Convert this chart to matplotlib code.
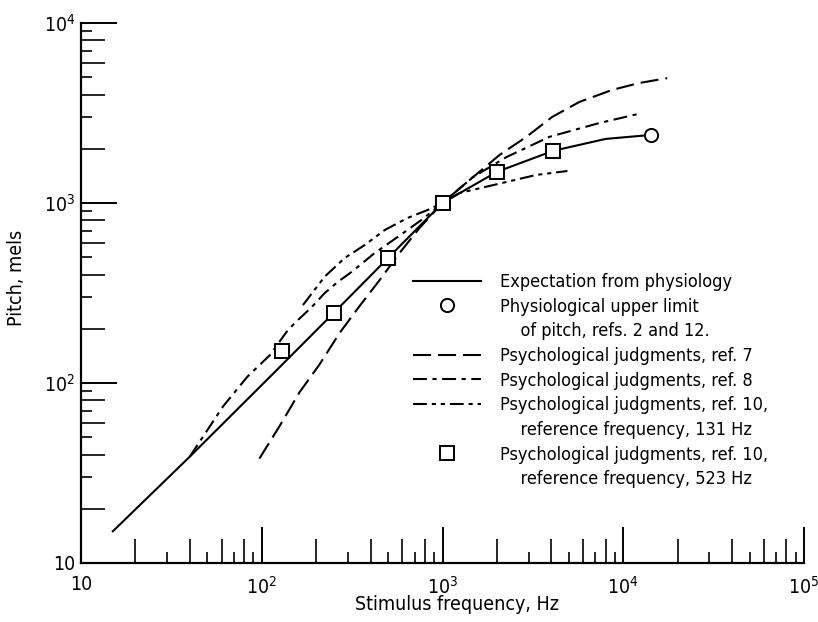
import matplotlib
matplotlib.use("Agg")
import matplotlib.pyplot as plt
from matplotlib import font_manager as fm
from matplotlib.lines import Line2D
from matplotlib.ticker import LogLocator, NullFormatter, NullLocator

# ---- data (Hz, mels) ----
expect_hz = [15, 40, 118, 250, 500, 1000, 2000, 4100, 8000, 14300]
expect_mel = [15, 39, 115, 245, 495, 1000, 1490, 1950, 2270, 2390]

limit_hz = [14300]
limit_mel = [2390]

ref7_hz = [97, 126, 162, 209, 270, 348, 449, 578, 746, 1000,
           1410, 2070, 2910, 4050, 5710, 8690, 12250, 17500]
ref7_mel = [38, 58, 89, 127, 190, 268, 373, 527, 726, 1000,
            1340, 1850, 2330, 3010, 3640, 4250, 4640, 4940]

ref8_hz = [40, 61, 83, 111, 137, 152, 189, 223, 263, 314, 421, 564, 765, 1000,
           1470, 2260, 3900, 7360, 12700]
ref8_mel = [39, 74, 108, 143, 192, 215, 264, 316, 364, 414, 527, 647, 805, 1000,
            1390, 1800, 2330, 2780, 3160]

ref10_131_hz = [169, 223, 288, 371, 479, 641, 826, 1000, 1240, 2260, 3300, 4910]
ref10_131_mel = [271, 390, 495, 584, 708, 826, 914, 1000, 1136, 1309, 1432, 1506]

ref10_523_hz = [130, 250, 500, 1000, 2000, 4100]
ref10_523_mel = [150, 245, 495, 1000, 1490, 1950]

x_ticks = [10, 100, 1000, 10000, 100000]
x_tick_labels = ["10", "10$^2$", "10$^3$", "10$^4$", "10$^5$"]
y_ticks = [10, 100, 1000, 10000]
y_tick_labels = ["10", "10$^2$", "10$^3$", "10$^4$"]

legend_labels = [
    "Expectation from physiology",
    "Physiological upper limit",
    "    of pitch, refs. 2 and 12.",
    "Psychological judgments, ref. 7",
    "Psychological judgments, ref. 8",
    "Psychological judgments, ref. 10,",
    "    reference frequency, 131 Hz",
    "Psychological judgments, ref. 10,",
    "    reference frequency, 523 Hz",
]

# ---- font: a narrow sans (condensed DejaVu if no Liberation Narrow) ----
names = {f.name for f in fm.fontManager.ttflist}
if "Liberation Sans Narrow" in names:
    plt.rcParams["font.family"] = ["Liberation Sans Narrow", "DejaVu Sans"]
else:
    plt.rcParams["font.family"] = ["DejaVu Sans"]
    plt.rcParams["font.stretch"] = "condensed"
plt.rcParams["mathtext.default"] = "regular"
plt.rcParams["lines.scale_dashes"] = False

fig = plt.figure(figsize=(8.18, 6.22), dpi=100)
ax = fig.add_axes([81 / 818, 59 / 622, 723 / 818, 540 / 622])
ax.set_xscale("log")
ax.set_yscale("log")

lw = 1.5
solid, = ax.plot(expect_hz, expect_mel, color="k", lw=lw, zorder=3)
r7, = ax.plot(ref7_hz, ref7_mel, color="k", lw=lw, dashes=(13, 5), zorder=2)
r8, = ax.plot(ref8_hz, ref8_mel, color="k", lw=lw, dashes=(10, 4, 3, 4), zorder=2)
r10, = ax.plot(ref10_131_hz, ref10_131_mel, color="k", lw=lw,
               dashes=(10, 3.5, 3, 3.5, 3, 3.5), zorder=2)
sq, = ax.plot(ref10_523_hz, ref10_523_mel, ls="none", marker="s", ms=10.5,
              mfc="white", mec="k", mew=1.4, zorder=4)
circ, = ax.plot(limit_hz, limit_mel, ls="none", marker="o", ms=9.5,
                mfc="white", mec="k", mew=1.4, zorder=4)

for side in ("top", "right"):
    ax.spines[side].set_visible(False)
for side in ("left", "bottom"):
    ax.spines[side].set_linewidth(1.6)

# decade ticks + even minor ticks on the main axes
ax.set_xticks(x_ticks, x_tick_labels)
ax.set_yticks(y_ticks, y_tick_labels)
for axis in (ax.xaxis, ax.yaxis):
    axis.set_minor_locator(LogLocator(base=10, subs=(2, 4, 6, 8), numticks=10))
    axis.set_minor_formatter(NullFormatter())
ax.set_xlim(10, 1e5)
ax.set_ylim(10, 1e4)
ax.tick_params(which="major", direction="in", length=26, width=1.4, labelsize=14)
ax.tick_params(which="minor", direction="in", length=17, width=1.2)
ax.tick_params(axis="x", which="major", pad=9)
ax.tick_params(axis="y", which="major", pad=4)

# odd minor ticks are shorter: draw them on secondary axes
secx = ax.secondary_xaxis("bottom")
secy = ax.secondary_yaxis("left")
for sec, axis in ((secx, secx.xaxis), (secy, secy.yaxis)):
    axis.set_major_locator(LogLocator(base=10, subs=(3, 5, 7, 9), numticks=10))
    axis.set_minor_locator(NullLocator())
    axis.set_major_formatter(NullFormatter())
    for sp in sec.spines.values():
        sp.set_visible(False)
    sec.tick_params(which="major", direction="in", length=8, width=1.2)

ax.set_xlabel("Stimulus frequency, Hz", fontsize=14)
ax.set_ylabel("Pitch, mels", fontsize=14)
ax.xaxis.set_label_coords(0.52, -0.06)
ax.yaxis.set_label_coords(-0.076, 0.528)

blank = Line2D([], [], ls="none")
handles = [solid, circ, blank, r7, r8, r10, blank, sq, blank]
ax.legend(handles, legend_labels, loc="upper left",
          bbox_to_anchor=(0.459, 0.537), bbox_transform=ax.transAxes,
          frameon=False, borderpad=0, borderaxespad=0, fontsize=13,
          handlelength=3.8, handletextpad=1.0, labelspacing=0.37,
          numpoints=1)

fig.savefig("out.png", dpi=100)
